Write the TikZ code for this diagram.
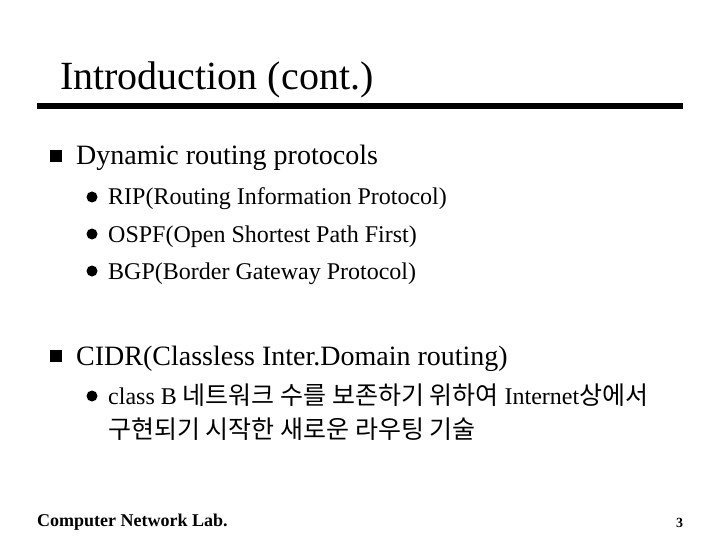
\documentclass[tikz,border=0pt]{standalone}
\usepackage{fontspec}
\setmainfont{Liberation Serif}
\newfontfamily\kr{Noto Sans CJK KR}
\begin{document}
\begin{tikzpicture}[x=1pt,y=-1pt,
  txt/.style={anchor=base west,inner sep=0pt},
  sq/.style={fill=black,minimum size=12pt,inner sep=0pt},
  dot/.style={circle,fill=black,minimum size=11pt,inner sep=0pt}]
\useasboundingbox[fill=white] (0,0) rectangle (720,540);
\node[txt,font=\fontsize{40}{44}\selectfont] (title) at (60,90) {Introduction (cont.)};
\coordinate (l1) at (37,106); \coordinate (l2) at (683,106);
\draw[line width=6pt] (l1) -- (l2);
\node[sq] (b1) at (56,156) {};
\node[txt,font=\fontsize{28}{32}\selectfont] (t1) at (76,165) {Dynamic routing protocols};
\node[dot] (d1) at (92,197) {};
\node[txt,font=\fontsize{24}{28}\selectfont] (s1) at (108,205) {RIP(Routing Information Protocol)};
\node[dot] (d2) at (92,234) {};
\node[txt,font=\fontsize{24}{28}\selectfont] (s2) at (108,242) {OSPF(Open Shortest Path First)};
\node[dot] (d3) at (92,271) {};
\node[txt,font=\fontsize{24}{28}\selectfont] (s3) at (108,279) {BGP(Border Gateway Protocol)};
\node[sq] (b2) at (56,356) {};
\node[txt,font=\fontsize{28}{32}\selectfont] (t2) at (76,365) {CIDR(Classless Inter.Domain routing)};
\node[dot] (d4) at (92,396) {};
\node[txt,font=\fontsize{24}{28}\selectfont] (s4) at (108,404) {class B {\kr\fontsize{25}{28}\selectfont 네트워크 수를 보존하기 위하여} Internet{\kr\fontsize{25}{28}\selectfont 상에서}};
\node[txt,font=\kr\fontsize{25}{28}\selectfont] (s5) at (108,438) {구현되기 시작한 새로운 라우팅 기술};
\node[txt,font=\bfseries\fontsize{18}{20}\selectfont] (f) at (37,526) {Computer Network Lab.};
\node[txt,font=\bfseries\fontsize{14}{16}\selectfont] (n) at (676,527) {3};
\end{tikzpicture}
\end{document}
